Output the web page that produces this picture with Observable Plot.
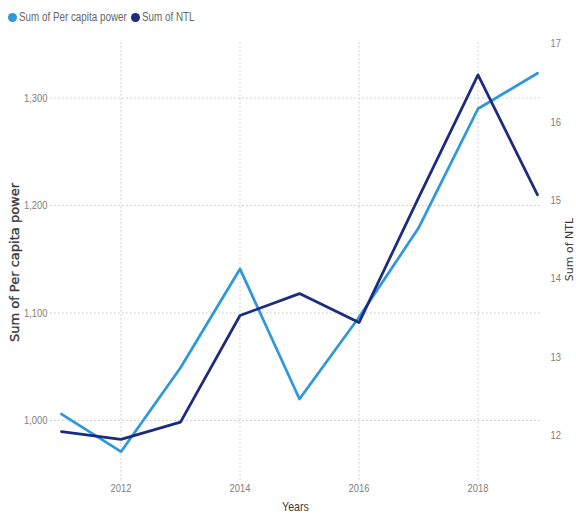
<!DOCTYPE html>
<html><head><meta charset="utf-8">
<script src="https://cdn.jsdelivr.net/npm/d3@7"></script>
<script src="https://cdn.jsdelivr.net/npm/@observablehq/plot@0.6"></script>
<style>
body{margin:0;background:#fff;}
#legend{height:30px;position:relative;font-family:"Liberation Sans",Arial,sans-serif;font-size:12px;color:#666;}
.item{position:absolute;top:10px;display:flex;align-items:center;line-height:14px;white-space:nowrap;}
.dot{width:9px;height:9px;border-radius:50%;margin-right:2px;flex:none;}
.lbl{display:inline-block;transform:scaleX(0.82);transform-origin:left center;}
</style></head><body>
<div id="legend"></div>
<div id="chart"></div>
<script>
const years = [2011, 2012, 2013, 2014, 2015, 2016, 2017, 2018, 2019];
const power = [1006, 971, 1049, 1141, 1020, 1096, 1179, 1290, 1323];
const ntl = [12.05, 11.95, 12.17, 13.53, 13.81, 13.44, 15.03, 16.60, 15.07];
const powerTicks = [1000, 1100, 1200, 1300];
const ntlTicks = [12, 13, 14, 15, 16, 17];
const xTicks = [2012, 2014, 2016, 2018];
const seriesNames = ["Sum of Per capita power", "Sum of NTL"];
const colors = ["#2E98DC", "#1C2B7F"];

// legend
const legend = document.getElementById("legend");
const legendLeft = [8, 131];
seriesNames.forEach((name, i) => {
  const it = document.createElement("div");
  it.className = "item";
  it.style.left = legendLeft[i] + "px";
  it.innerHTML = `<span class="dot" style="background:${colors[i]}"></span><span class="lbl">${name}</span>`;
  legend.appendChild(it);
});

const rows = years.map((y, i) => ({year: y, power: power[i], ntl: ntl[i]}));

// secondary axis mapped into primary units
const ntlToY = d3.scaleLinear().domain([12, 17]).range([986.05, 1350.7]);

const gridStyle = {stroke: "#c4c4c4", strokeOpacity: 1, strokeDasharray: "1.5,2.5"};
const tickStyle = {tickSize: 0, label: null, fill: "#808080", fontSize: 11.5, className: "narrow"};

const chart = Plot.plot({
  width: 576,
  height: 484,
  marginLeft: 50,
  marginRight: 36,
  marginTop: 12,
  marginBottom: 34,
  style: {fontFamily: '"Liberation Sans", Arial, sans-serif', fontSize: "11px", background: "#fff", overflow: "visible"},
  x: {domain: [2011, 2019], range: [61, 537], axis: null},
  y: {domain: [1000, 1300], range: [390, 67.5], axis: null},
  marks: [
    Plot.gridY(powerTicks, gridStyle),
    Plot.gridX(xTicks, gridStyle),
    Plot.axisY(powerTicks, {...tickStyle, anchor: "left", tickPadding: 3, tickFormat: d3.format(",")}),
    Plot.axisY(ntlTicks.map(ntlToY), {...tickStyle, anchor: "right", tickPadding: 10, tickFormat: d => String(Math.round(ntlToY.invert(d)))}),
    Plot.axisX(xTicks, {...tickStyle, anchor: "bottom", tickPadding: 3, tickFormat: d => String(d)}),
    Plot.lineY(rows, {x: "year", y: "power", stroke: colors[0], strokeWidth: 2.75}),
    Plot.lineY(rows, {x: "year", y: d => ntlToY(d.ntl), stroke: colors[1], strokeWidth: 2.75}),
    Plot.text(["Sum of Per capita power"], {frameAnchor: "left", textAnchor: "middle", dx: -36, dy: 1, rotate: -90, text: d => d, fill: "#3a3a3a", stroke: "#3a3a3a", strokeWidth: 0.35, fontSize: 13, fontFamily: "DejaVu Sans"}),
    Plot.text(["Sum of NTL"], {frameAnchor: "right", textAnchor: "middle", dx: 29, dy: -12, rotate: -90, text: d => d, fill: "#3a3a3a", fontSize: 11, fontFamily: "DejaVu Sans"}),
    Plot.text(["Years"], {frameAnchor: "bottom", dx: 0, dy: 30, text: d => d, fill: "#3a3a3a", fontSize: 13, className: "narrow"})
  ]
});
document.getElementById("chart").appendChild(chart);

// condense horizontal labels (narrow font look)
chart.querySelectorAll(".narrow text").forEach(el => {
  const x = +el.getAttribute("x") || 0, y = +el.getAttribute("y") || 0;
  const t = el.getAttribute("transform") || "";
  el.setAttribute("transform", `${t} translate(${x},${y}) scale(0.82,1) translate(${-x},${-y})`);
});
</script>
</body></html>
